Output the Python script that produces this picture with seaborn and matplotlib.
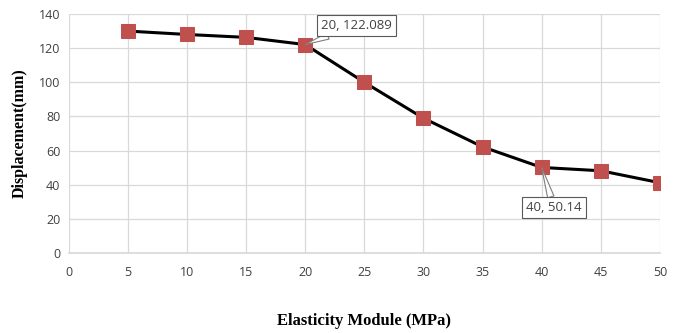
import matplotlib
matplotlib.use("Agg")
import matplotlib.pyplot as plt
import seaborn as sns
import pandas as pd

elasticity = [5, 10, 15, 20, 25, 30, 35, 40, 45, 50]
displacement = [130, 128, 126.3, 122.089, 100, 79, 62.2, 50.14, 48.2, 41.2]
x_ticks = [0, 5, 10, 15, 20, 25, 30, 35, 40, 45, 50]
y_ticks = [0, 20, 40, 60, 80, 100, 120, 140]
x_label = "Elasticity Module (MPa)"
y_label = "Displacement(mm)"
callouts = [(20, 122.089, "20, 122.089"), (40, 50.14, "40, 50.14")]

df = pd.DataFrame({"E": elasticity, "D": displacement})

sns.set_theme(style="white")
plt.rcParams["font.family"] = ["Open Sans", "DejaVu Sans"]

fig = plt.figure(figsize=(6.81, 3.33), dpi=100)
ax = fig.add_axes([0.101, 0.240, 0.868, 0.718])

sns.lineplot(data=df, x="E", y="D", ax=ax, color="black", linewidth=2.2,
             marker="s", markersize=10, markerfacecolor="#c0504d",
             markeredgecolor="#c0504d", zorder=3)

ax.set_xlim(0, 50)
ax.set_ylim(0, 140)
ax.set_xticks(x_ticks)
ax.set_yticks(y_ticks)
ax.grid(True, color="#d9d9d9", linewidth=0.9)
for s in ["top", "right", "left"]:
    ax.spines[s].set_visible(False)
ax.spines["bottom"].set_color("#d9d9d9")
ax.tick_params(axis="both", length=0, labelsize=9, labelcolor="#404040")
ax.tick_params(axis="x", pad=9)
ax.tick_params(axis="y", pad=6)

ax.set_xlabel(x_label, fontfamily="Liberation Serif", fontweight="bold",
              fontsize=12, color="black", labelpad=25)
ax.set_ylabel(y_label, fontfamily="Liberation Serif", fontweight="bold",
              fontsize=11.5, color="black", labelpad=8)

offsets = [(37, 14), (9, -29)]
for (cx, cy, txt), off in zip(callouts, offsets):
    ax.annotate(txt, xy=(cx, cy), xytext=off, textcoords="offset points",
                fontsize=9.5, color="#404040", ha="center", va="center",
                bbox=dict(boxstyle="square,pad=0.3", fc="white", ec="#595959", lw=0.8),
                arrowprops=dict(arrowstyle="wedge,tail_width=0.5,shrink_factor=0.5",
                                fc="white", ec="#7f7f7f", lw=0.8,
                                shrinkA=0, shrinkB=0),
                zorder=5)

fig.savefig("out.png", dpi=100)
